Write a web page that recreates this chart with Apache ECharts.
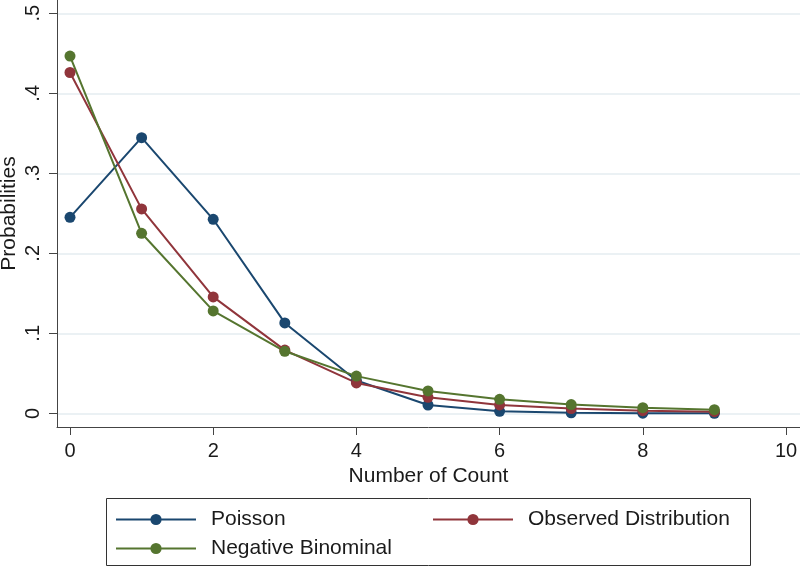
<!DOCTYPE html>
<html>
<head>
<meta charset="utf-8">
<script src="https://cdn.jsdelivr.net/npm/echarts@6/dist/echarts.min.js"></script>
<style>html,body{margin:0;padding:0;background:#fff}#c{width:800px;height:567px}</style>
</head>
<body>
<div id="c"></div>
<script>
const counts = [0, 1, 2, 3, 4, 5, 6, 7, 8, 9];
const poisson = [0.245, 0.3445, 0.2425, 0.113, 0.041, 0.0104, 0.0025, 0.0006, 0.0002, 0.0001];
const observed = [0.426, 0.2555, 0.1455, 0.079, 0.038, 0.020, 0.0105, 0.006, 0.0033, 0.002];
const negbin = [0.4465, 0.225, 0.128, 0.0775, 0.0465, 0.028, 0.0175, 0.011, 0.007, 0.0045];
const xTicks = [0, 2, 4, 6, 8, 10];
const yTicks = [0, 0.1, 0.2, 0.3, 0.4, 0.5];
const seriesNames = ['Poisson', 'Observed Distribution', 'Negative Binominal'];
const colors = ['#1a476f', '#90353b', '#55752f'];

const FONT = '"Liberation Sans", Arial, Helvetica, sans-serif';
const TXT = '#1a1a1a';
const AX = '#444';

function pairs(arr) { return counts.map((c, i) => [c, arr[i]]); }
const allData = [poisson, observed, negbin];

const chart = echarts.init(document.getElementById('c'), null, { renderer: 'canvas' });
const legendCommon = {
  orient: 'horizontal', padding: 0, itemWidth: 80, itemHeight: 14,
  textStyle: { fontFamily: FONT, fontSize: 21, color: TXT, padding: [0, 0, 0, 10] },
  selectedMode: false
};
chart.setOption({
  animation: false,
  backgroundColor: '#fff',
  color: colors,
  grid: { left: 57, right: 0, top: 0, bottom: 140, containLabel: false, outerBoundsMode: 'none' },
  xAxis: {
    type: 'value', min: -0.1816, max: 10.1955,
    name: 'Number of Count', nameLocation: 'middle', nameGap: 39, nameMoveOverlap: false,
    nameTextStyle: { fontFamily: FONT, fontSize: 21, color: TXT },
    axisLine: { show: true, onZero: false, lineStyle: { color: AX, width: 1 } },
    axisTick: { show: true, length: 8, lineStyle: { color: AX }, customValues: xTicks },
    axisLabel: { fontFamily: FONT, fontSize: 20, color: TXT, margin: 14, customValues: xTicks,
      formatter: v => String(v) },
    splitLine: { show: false }
  },
  yAxis: {
    type: 'value', min: -0.0171, max: 0.5166,
    name: 'Probabilities', nameLocation: 'middle', nameGap: 37, nameMoveOverlap: false,
    nameTextStyle: { fontFamily: FONT, fontSize: 21, color: TXT },
    axisLine: { show: true, onZero: false, lineStyle: { color: AX, width: 1 } },
    axisTick: { show: true, length: 8, lineStyle: { color: AX }, customValues: yTicks },
    axisLabel: { fontFamily: FONT, fontSize: 20, color: TXT, margin: 14, rotate: 90, customValues: yTicks,
      formatter: v => (Math.abs(v) < 1e-9 ? '0' : '.' + Math.round(v * 10)) },
    splitLine: { show: true, lineStyle: { color: '#e4ecf1', width: 1.5 }, customValues: yTicks }
  },
  legend: [
    Object.assign({}, legendCommon, { data: [seriesNames[0]], left: 115, top: 509 }),
    Object.assign({}, legendCommon, { data: [seriesNames[1]], left: 432, top: 509 }),
    Object.assign({}, legendCommon, { data: [seriesNames[2]], left: 115, top: 538 })
  ],
  graphic: [{
    type: 'rect', shape: { x: 106.5, y: 498.5, width: 644, height: 67 },
    style: { fill: 'none', stroke: '#333', lineWidth: 1 }, silent: true
  }],
  series: seriesNames.map((n, i) => ({
    name: n, type: 'line', data: pairs(allData[i]),
    symbol: 'circle', symbolSize: 11, showSymbol: true,
    lineStyle: { width: 2, color: colors[i] },
    itemStyle: { color: colors[i] },
    emphasis: { disabled: true }
  }))
});
</script>
</body>
</html>
